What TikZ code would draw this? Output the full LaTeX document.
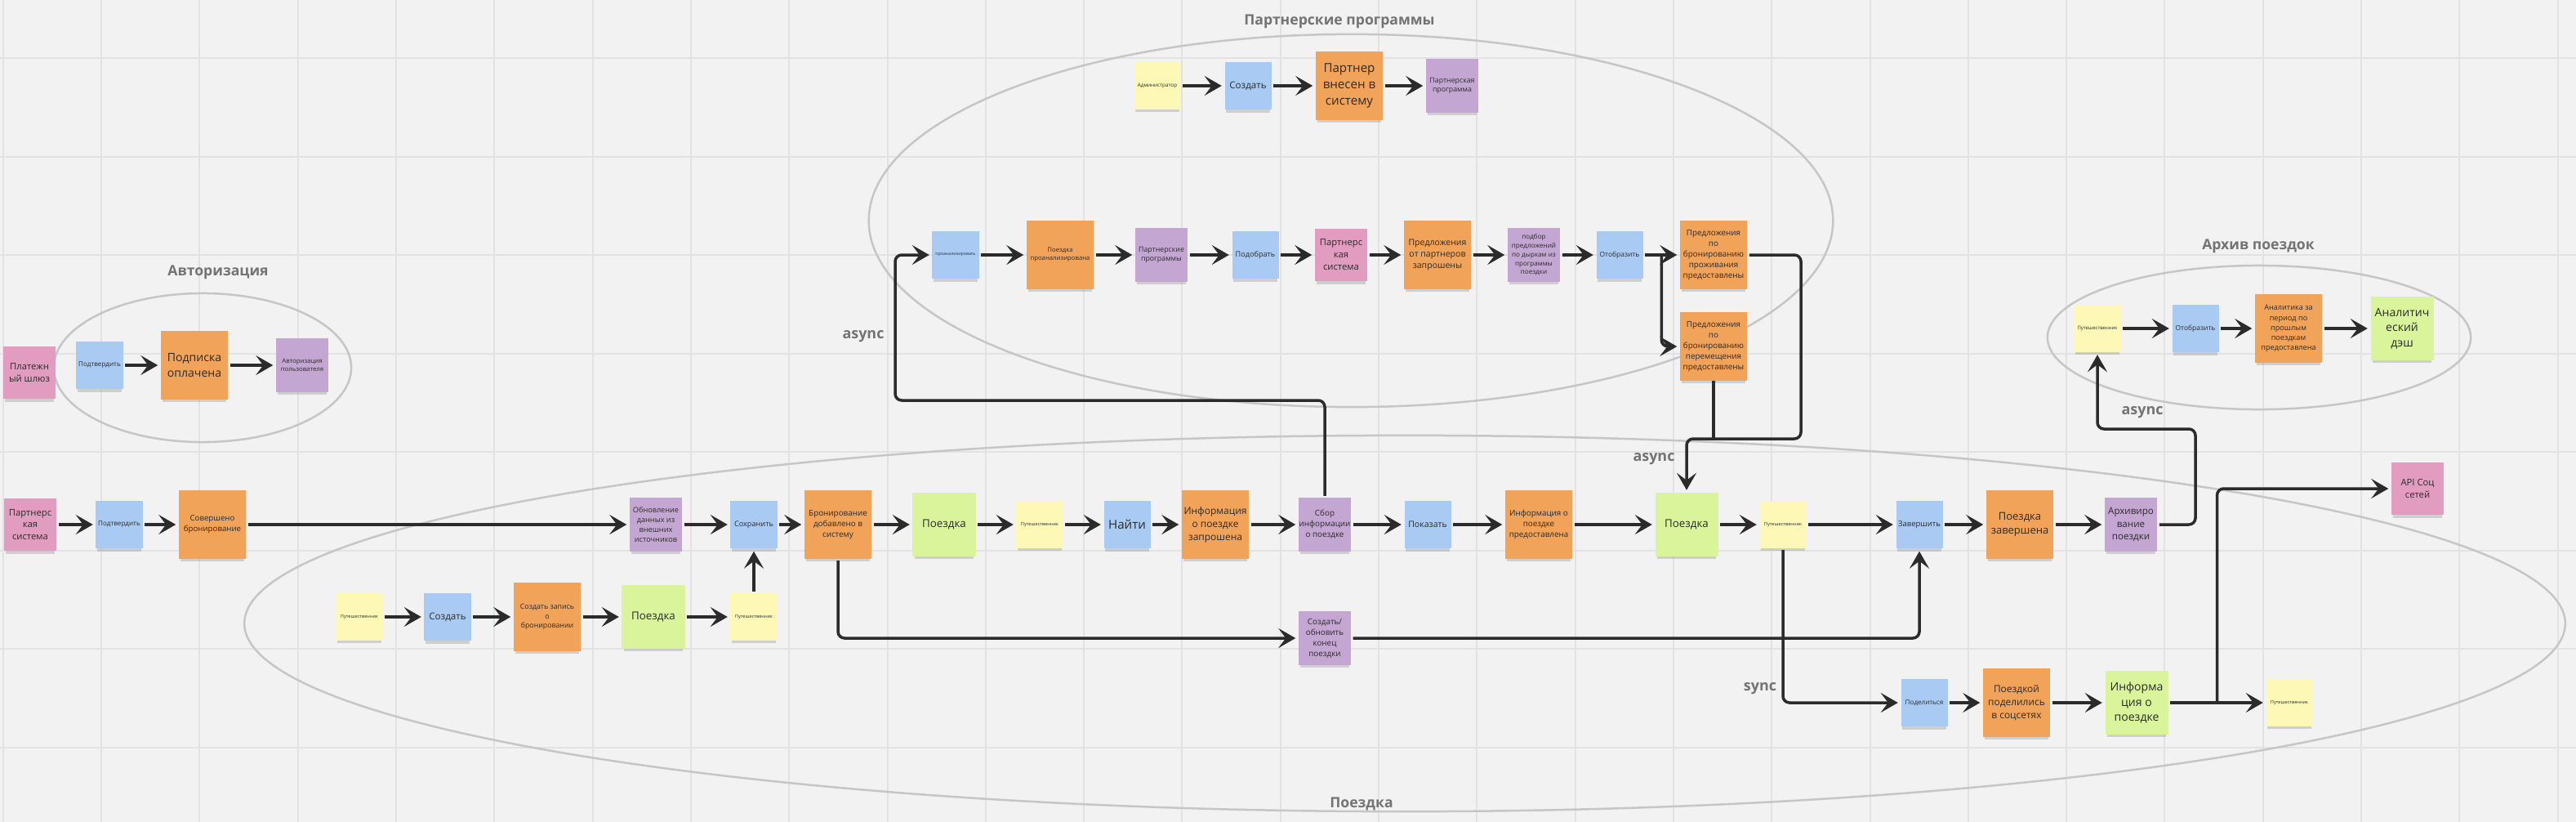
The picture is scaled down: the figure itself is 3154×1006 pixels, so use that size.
\documentclass[tikz,border=0pt]{standalone}
\usepackage{fontspec}
\setmainfont{Open Sans}
\usetikzlibrary{arrows.meta,shadows,calc}

\definecolor{bgc}{HTML}{F2F2F2}
\definecolor{gridc}{HTML}{E2E2E2}
\definecolor{zonec}{HTML}{C6C6C6}
\definecolor{labc}{HTML}{737373}
\definecolor{ink}{HTML}{2B2B2B}
\definecolor{cyel}{HTML}{FDF8B5}
\definecolor{cblu}{HTML}{A9CBF3}
\definecolor{corg}{HTML}{F1A35A}
\definecolor{cpur}{HTML}{C4A6D2}
\definecolor{cpnk}{HTML}{E29CBF}
\definecolor{cgrn}{HTML}{D9F49A}

\newcommand\stickyfont[1]{\fontsize{#1}{\fpeval{1.33*#1}}\selectfont}

\begin{document}
\begin{tikzpicture}[x=0.01cm, y=-0.01cm,
    note/.style={inner sep=0pt, align=center, text=ink,
      drop shadow={shadow xshift=0mm, shadow yshift=-0.6mm, shadow scale=0.94, opacity=0.3}},
    fs/.style={font=\stickyfont{#1}},
    yel/.style={note, fill=cyel, minimum width=5.7mm, minimum height=5.7mm},
    blu/.style={note, fill=cblu, minimum width=5.7mm, minimum height=5.8mm},
    pur/.style={note, fill=cpur, minimum width=6.4mm, minimum height=6.5mm},
    pnk/.style={note, fill=cpnk, minimum width=6.4mm, minimum height=6.4mm},
    org/.style={note, fill=corg, minimum width=8.2mm, minimum height=8.3mm},
    grn/.style={note, fill=cgrn, minimum width=7.7mm, minimum height=7.7mm},
    conn/.style={draw=ink, line width=0.35mm, rounded corners=0.8mm,
      -{Stealth[length=2.1mm, width=2.4mm, inset=0.9mm]},
      shorten >=0.3mm, shorten <=0.2mm},
    line/.style={draw=ink, line width=0.35mm, rounded corners=0.8mm},
    zone/.style={draw=zonec, line width=0.25mm},
    title/.style={text=labc, font=\bfseries\stickyfont{5}},
    tag/.style={text=labc, font=\bfseries\stickyfont{5.1}}]

    % 1. Фон и сетка
    \fill[bgc] (0,0) rectangle (3154,1006);
    \useasboundingbox (0,0) rectangle (3154,1006);
    \foreach \k in {0,...,26}
        \draw[gridc, line width=0.2mm] ({3.8+120.3*\k},0) -- ({3.8+120.3*\k},1006);
    \foreach \k in {0,...,7}
        \draw[gridc, line width=0.2mm] (0,{71.2+120.5*\k}) -- (3154,{71.2+120.5*\k});

    % 2. Области (эллипсы) и их подписи
    \draw[zone] (248,450) ellipse [x radius=1.82cm, y radius=0.91cm];
    \draw[zone] (1654,270) ellipse [x radius=5.9cm, y radius=2.28cm];
    \draw[zone] (2766,413) ellipse [x radius=2.59cm, y radius=0.88cm];
    \draw[zone] (1720,763) ellipse [x radius=14.2cm, y radius=2.3cm];

    \node[title] (tAuth) at (267,333) {Авторизация};
    \node[title] (tPart) at (1640,26) {Партнерские программы};
    \node[title] (tArch) at (2765,301) {Архив поездок};
    \node[title] (tTrip) at (1667,984) {Поездка};

    % 3. Авторизация
    \node[pnk, fs=3.2] (A1) at (36,456) {Платежн\\ый шлюз};
    \node[blu, fs=2.3] (A2) at (122,447) {Подтвердить};
    \node[org, fs=4] (A3) at (238,447) {Подписка\\оплачена};
    \node[pur, fs=2.2] (A4) at (370,447) {Авторизация\\пользователя};

    % 4. Партнерские программы: верхний ряд
    \node[yel, fs=1.8] (P1) at (1417,105) {Администратор};
    \node[blu, fs=3.3] (P2) at (1528,105) {Создать};
    \node[org, fs=4.3] (P3) at (1652,105) {Партнер\\внесен в\\систему};
    \node[pur, fs=2.5] (P4) at (1778,105) {Партнерская\\программа};

    % 5. Партнерские программы: нижний ряд
    \node[blu, fs=1.5] (Q1) at (1170,312) {проанализировать};
    \node[org, fs=2.2] (Q2) at (1298,312) {Поездка\\проанализирована};
    \node[pur, fs=2.5] (Q3) at (1422,312) {Партнерские\\программы};
    \node[blu, fs=2.6] (Q4) at (1537,312) {Подобрать};
    \node[pnk, fs=3.2] (Q5) at (1642,312) {Партнерс\\кая\\система};
    \node[org, fs=3] (Q6) at (1760,312) {Предложения\\от партнеров\\запрошены};
    \node[pur, fs=2.3] (Q7) at (1878,312) {подбор\\предложений\\по дыркам из\\программы\\поездки};
    \node[blu, fs=2.4] (Q8) at (1983,312) {Отобразить};
    \node[org, fs=2.8] (Q9) at (2098,312) {Предложения\\по\\бронированию\\проживания\\предоставлены};
    \node[org, fs=2.8] (Q10) at (2098,424) {Предложения\\по\\бронированию\\перемещения\\предоставлены};

    % 6. Архив поездок
    \node[yel, fs=1.7] (H1) at (2568,402) {Путешественник};
    \node[blu, fs=2.4] (H2) at (2688,402) {Отобразить};
    \node[org, fs=2.6] (H3) at (2802,402) {Аналитика за\\период по\\прошлым\\поездкам\\предоставлена};
    \node[grn, fs=4] (H4) at (2941,402) {Аналитич\\еский\\дэш};

    % 7. Поездка: основной ряд
    \node[pnk, fs=3.2] (M1) at (37,642) {Партнерс\\кая\\система};
    \node[blu, fs=2.3] (M2) at (146,642) {Подтвердить};
    \node[org, fs=2.75] (M3) at (260,642) {Совершено\\бронирование};
    \node[pur, fs=2.6] (M4) at (803,642) {Обновление\\данных из\\внешних\\источников};
    \node[blu, fs=2.6] (M5) at (923,642) {Сохранить};
    \node[org, fs=2.8] (M6) at (1026,642) {Бронирование\\добавлено в\\систему};
    \node[grn, fs=3.8] (M7) at (1156,642) {Поездка};
    \node[yel, fs=1.6] (M8) at (1273,642) {Путешественник};
    \node[blu, fs=4.3] (M9) at (1380,642) {Найти};
    \node[org, fs=3.4] (M10) at (1488,642) {Информация\\о поездке\\запрошена};
    \node[pur, fs=2.8] (M11) at (1622,642) {Сбор\\информации\\о поездке};
    \node[blu, fs=3] (M12) at (1748,642) {Показать};
    \node[org, fs=2.8] (M13) at (1884,642) {Информация о\\поездке\\предоставлена};
    \node[grn, fs=3.8] (M14) at (2065,642) {Поездка};
    \node[yel, fs=1.6] (M15) at (2183,642) {Путешественник};
    \node[blu, fs=2.7] (M16) at (2350,642) {Завершить};
    \node[org, fs=3.7] (M17) at (2473,642) {Поездка\\завершена};
    \node[pur, fs=3.3] (M18) at (2609,642) {Архивиро\\вание\\поездки};
    \node[pnk, fs=3.2] (API) at (2960,598) {API Соц\\сетей};

    % 8. Поездка: нижние ряды
    \node[yel, fs=1.6] (L1) at (440,755) {Путешественник};
    \node[blu, fs=3.3] (L2) at (548,755) {Создать};
    \node[org, fs=2.5] (L3) at (670,755) {Создать запись\\о\\бронировании};
    \node[grn, fs=3.8] (L4) at (800,755) {Поездка};
    \node[yel, fs=1.6] (L5) at (923,755) {Путешественник};
    \node[pur, fs=2.8] (S) at (1622,781) {Создать/\\обновить\\конец\\поездки};

    \node[blu, fs=2.3] (R1) at (2356,860) {Поделиться};
    \node[org, fs=3.4] (R2) at (2469,860) {Поездкой\\поделились\\в соцсетях};
    \node[grn, fs=4] (R3) at (2616,860) {Информа\\ция о\\поездке};
    \node[yel, fs=1.6] (R4) at (2803,860) {Путешественник};

    % 9. Стрелки внутри рядов
    \draw[conn] (A2) -- (A3);
    \draw[conn] (A3) -- (A4);

    \draw[conn] (P1) -- (P2);
    \draw[conn] (P2) -- (P3);
    \draw[conn] (P3) -- (P4);

    \draw[conn] (Q1) -- (Q2);
    \draw[conn] (Q2) -- (Q3);
    \draw[conn] (Q3) -- (Q4);
    \draw[conn] (Q4) -- (Q5);
    \draw[conn] (Q5) -- (Q6);
    \draw[conn] (Q6) -- (Q7);
    \draw[conn] (Q7) -- (Q8);
    \draw[conn] (Q8) -- (Q9);
    \draw[conn] ($(Q8.east)!0.5!(Q9.west)$) |- (Q10.west);

    \draw[conn] (H1) -- (H2);
    \draw[conn] (H2) -- (H3);
    \draw[conn] (H3) -- (H4);

    \draw[conn] (M1) -- (M2);
    \draw[conn] (M2) -- (M3);
    \draw[conn] (M3) -- (M4);
    \draw[conn] (M4) -- (M5);
    \draw[conn] (M5) -- (M6);
    \draw[conn] (M6) -- (M7);
    \draw[conn] (M7) -- (M8);
    \draw[conn] (M8) -- (M9);
    \draw[conn] (M9) -- (M10);
    \draw[conn] (M10) -- (M11);
    \draw[conn] (M11) -- (M12);
    \draw[conn] (M12) -- (M13);
    \draw[conn] (M13) -- (M14);
    \draw[conn] (M14) -- (M15);
    \draw[conn] (M15) -- (M16);
    \draw[conn] (M16) -- (M17);
    \draw[conn] (M17) -- (M18);

    \draw[conn] (L1) -- (L2);
    \draw[conn] (L2) -- (L3);
    \draw[conn] (L3) -- (L4);
    \draw[conn] (L4) -- (L5);
    \draw[conn] (L5) -- (M5);

    \draw[conn] (R1) -- (R2);
    \draw[conn] (R2) -- (R3);
    \draw[conn] (R3) -- (R4);

    % 10. Связи между областями
    \coordinate (K1) at (1096,490);
    \coordinate (K2) at (2205,537);
    \coordinate (K3) at (2688,525);
    \draw[conn] (M11.north) |- (K1) |- (Q1.west);
    \draw[conn] (Q9.east) -| (K2) -| (M14.north);
    \draw[line] (Q10.south) -- (Q10.south |- K2);
    \draw[conn] (M18.east) -| (K3) -| (H1.south);
    \draw[conn] (M6.south) |- (S.west);
    \draw[conn] (S.east) -| (M16.south);
    \draw[conn] (M15.south) |- (R1.west);
    \draw[conn] ($(R3.east)!0.5!(R4.west)$) |- (API.west);

    \node[tag] (g1) at (1057,412) {async};
    \node[tag] (g2) at (2025,562) {async};
    \node[tag] (g3) at (2623,505) {async};
    \node[tag] (g4) at (2155,843) {sync};

\end{tikzpicture}
\end{document}
